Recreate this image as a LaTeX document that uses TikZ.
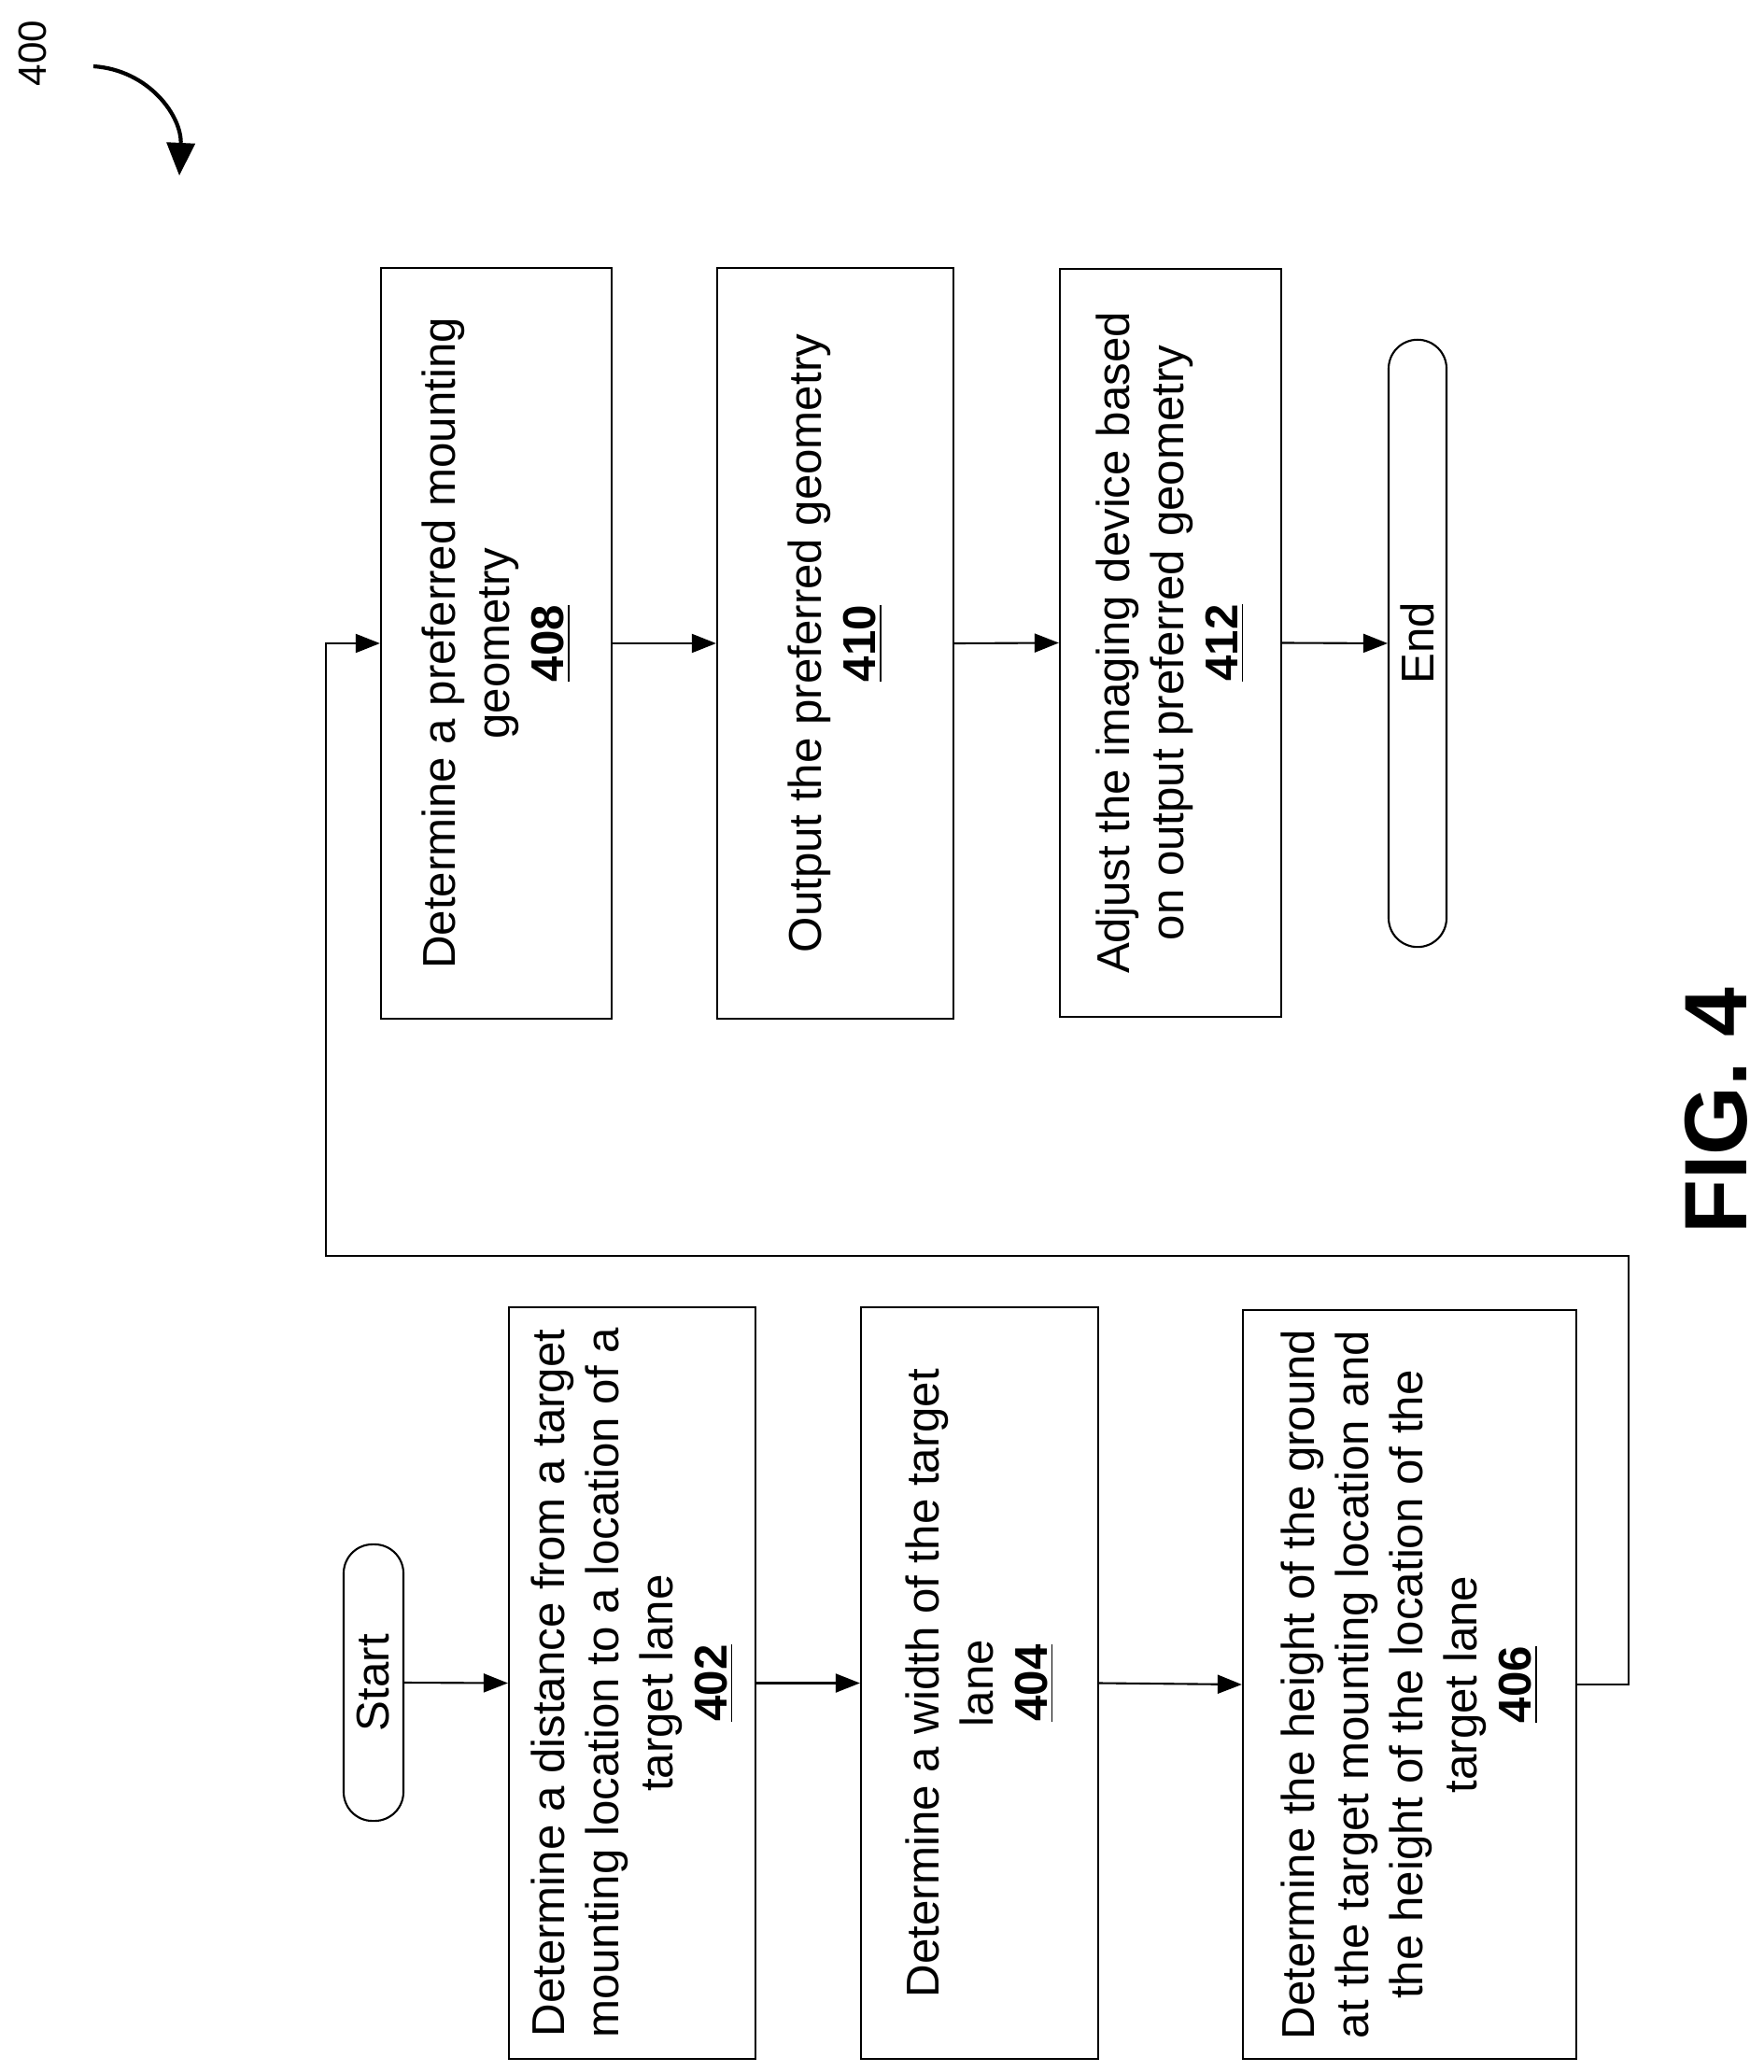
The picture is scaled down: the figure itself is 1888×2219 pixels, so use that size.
\documentclass[tikz,border=0pt]{standalone}
\usepackage{fontspec}
\setmainfont{Liberation Sans}
\usetikzlibrary{arrows.meta}
\tikzset{
 box/.style={draw,line width=0.6pt,rotate=90,align=center,inner sep=2pt,font=\fontsize{14}{16.5}\selectfont},
 term/.style={box,rounded corners=0.31cm},
 conn/.style={line width=0.6pt,-{Triangle[length=0.26cm,width=0.2cm]}}
}
\begin{document}
\begin{tikzpicture}[x=0.01cm,y=-0.01cm]
\useasboundingbox (0,0) rectangle (1888,2219);
\node[box,minimum width=8.04cm,minimum height=2.47cm] (b408) at (531.5,689) {Determine a preferred mounting\\geometry\\\underline{\textbf{408}}};
\node[box,minimum width=8.04cm,minimum height=2.53cm] (b410) at (894.5,689) {Output the preferred geometry\\\underline{\textbf{410}}};
\node[box,minimum width=8.01cm,minimum height=2.37cm] (b412) at (1253.5,688.5) {Adjust the imaging device based\\on output preferred geometry\\\underline{\textbf{412}}};
\node[term,minimum width=6.5cm,minimum height=0.62cm] (end) at (1518,689) {End};
\node[term,minimum width=2.96cm,minimum height=0.64cm] (start) at (400,1802) {Start};
\node[box,minimum width=8.05cm,minimum height=2.64cm] (b402) at (677,1802.5) {Determine a distance from a target\\mounting location to a location of a\\target lane\\\underline{\textbf{402}}};
\node[box,minimum width=8.05cm,minimum height=2.54cm] (b404) at (1049,1802.5) {Determine a width of the target\\lane\\\underline{\textbf{404}}};
\node[box,minimum width=8.02cm,minimum height=3.57cm] (b406) at (1509.5,1804) {Determine the height of the ground\\at the target mounting location and\\the height of the location of the\\target lane\\\underline{\textbf{406}}};
\draw[conn] (start.south) -- (b402.north);
\draw[conn] (b402.south) -- (b404.north);
\draw[conn] (b404.south) -- (b406.north);
\coordinate (c1) at (1744,1345);
\coordinate (c2) at (349,1345);
\draw[conn] (b406.south) -| (c1) -- (c2) |- (b408.north);
\draw[conn] (b408.south) -- (b410.north);
\draw[conn] (b410.south) -- (b412.north);
\draw[conn] (b412.south) -- (end.north);
\node[rotate=90,font=\bfseries\fontsize{27}{30}\selectfont] (fig) at (1838,1190) {FIG. 4};
\node[rotate=90,font=\fontsize{12}{14}\selectfont] (lbl) at (35,57) {400};
\coordinate (a1) at (100,71);
\coordinate (a2) at (192,188);
\draw[line width=1.2pt,-{Triangle[length=0.35cm,width=0.3cm]}] (a1) .. controls (160,75) and (195,125) .. (a2);
\end{tikzpicture}
\end{document}
